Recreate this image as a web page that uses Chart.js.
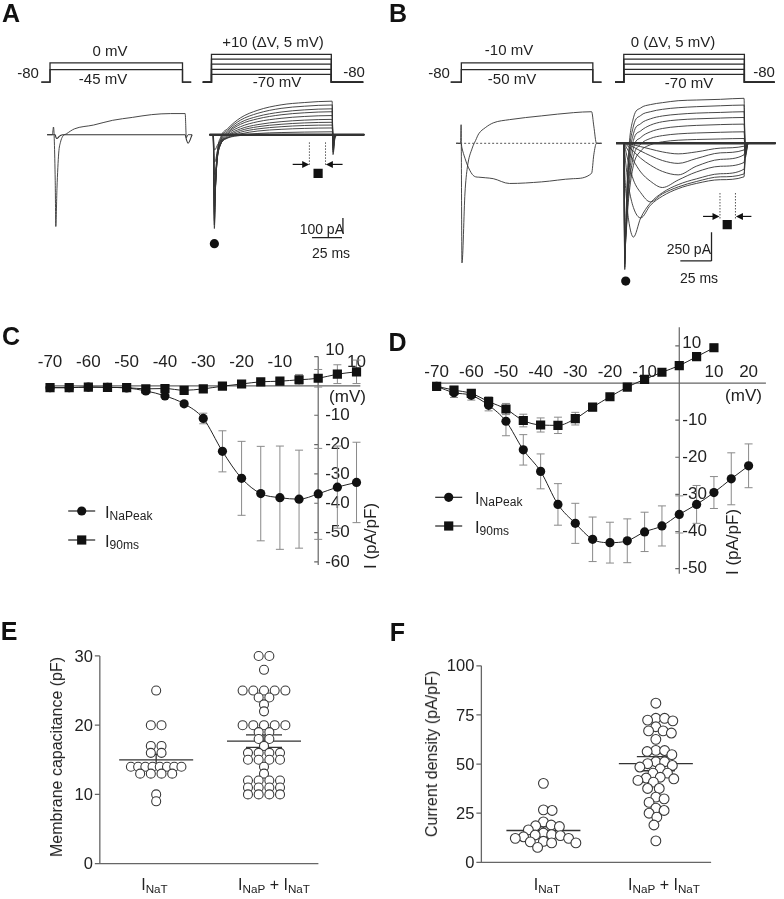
<!DOCTYPE html>
<html>
<head>
<meta charset="utf-8">
<title>Na currents</title>
<script src="https://cdn.jsdelivr.net/npm/chart.js@4.4.1/dist/chart.umd.min.js"></script>
<style>
  body { margin: 0; background: #fff; }
  #fig { position: relative; width: 784px; height: 899px; overflow: hidden; background: #fff;
         font-family: "Liberation Sans", Arial, Helvetica, sans-serif; color: #222; }
  #fig canvas { position: absolute; }
  .t { position: absolute; white-space: nowrap; line-height: 1; }
  .lt { font-size: 25px; font-weight: bold; color: #111; }
  .pr { font-size: 15px; }
  .sc { font-size: 14px; }
  .ax { font-size: 17px; }
  .lg { font-size: 16.5px; }
  .ct { font-size: 16px; }
  .yt { font-size: 16px; }
  sub { font-size: 0.73em; vertical-align: -0.22em; line-height: 0; }
</style>
</head>
<body>
<div id="fig">
  <canvas id="cA" width="392" height="300" style="left:0;top:0"></canvas>
  <canvas id="cB" width="392" height="300" style="left:392px;top:0"></canvas>
  <canvas id="cC" width="392" height="300" style="left:0;top:300px"></canvas>
  <canvas id="cD" width="392" height="300" style="left:392px;top:300px"></canvas>
  <canvas id="cE" width="392" height="289" style="left:0;top:610px"></canvas>
  <canvas id="cF" width="392" height="289" style="left:392px;top:610px"></canvas>
</div>
<script>
// ---------- A / B : voltage protocols (ms, schematic step heights) ----------
const protoA_tL = [-7.5, 0, 0, 114.2, 114.2, 121.7];
const protoA_tR = [-7.5, 0, 0, 103.3, 103.3, 130.8];
const protoB_tL = [-8.8, 0, 0, 108.8, 108.8, 116];
const protoB_tR = [-7.2, 0, 0, 99.8, 99.8, 124.8];
const stepsL = [2.0, 3.1];
const stepsR = [1.25, 2.05, 2.9, 3.7, 4.45];

// ---------- A : currents (ms, pA) ----------
const tAL = [-2.5, 2, 3, 4.5, 5, 6, 7.5, 9, 11, 14, 21, 37.5, 54, 71, 87.5, 104, 116.5, 117.5, 119, 122.5];
const aL_0mV = [0, 0, 50, -300, -600, -350, -120, -50, -10, 5, 38, 63, 94, 113, 131, 138, 138, -20, 0, 0];
const aL_m45 = [0, 0, 0, 0, -15, -25, -15, -5, 0, 0, 0, 0, 0, 0, 0, 0, 0, -30, -56, 0];
const tAR = [-1.7, 1.5, 2.5, 3.5, 5, 8, 14, 25, 40, 60, 80, 104, 104.8, 106.5, 110, 131.7];
const aR_sweeps = [
  [0, 0, -613, -330, -120, -15, 40, 110, 160, 195, 210, 219, -130, -20, 0, 0],
  [0, 0, -590, -340, -130, -25, 30, 95, 140, 172, 186, 194, -115, -15, 0, 0],
  [0, 0, -560, -345, -140, -35, 20, 80, 120, 148, 162, 169, -100, -12, 0, 0],
  [0, 0, -520, -340, -150, -45, 12, 68, 104, 130, 143, 150, -85, -10, 0, 0],
  [0, 0, -470, -330, -155, -55, 4, 52, 85, 107, 119, 125, -70, -8, 0, 0],
  [0, 0, -410, -310, -160, -60, -5, 38, 66, 85, 95, 100, -55, -6, 0, 0],
  [0, 0, -340, -280, -150, -62, -12, 27, 52, 68, 77, 81, -42, -5, 0, 0],
  [0, 0, -260, -230, -135, -60, -18, 16, 38, 52, 60, 63, -30, -4, 0, 0],
  [0, 0, -180, -170, -110, -55, -22, 5, 24, 35, 41, 44, -20, -2, 0, 0],
  [0, 0, -100, -95, -70, -40, -20, -5, 8, 14, 17, 19, -10, 0, 0, 0]
];

// ---------- B : currents (ms, pA) ----------
const tBL = [-4.3, -0.6, -0.2, 0.5, 3.0, 5.0, 9.0, 11.8, 14.4, 19.8, 26.4, 39.8, 66.4, 92.8, 107.8, 109.6, 111.8, 116];
const bL_m10 = [0, 0, 162, -1042, -433, -208, -42, 25, 83, 136, 178, 206, 239, 267, 275, 150, 0, 0];
const bL_m50 = [0, 0, 0, -40, -130, -190, -270, -292, -295, -300, -308, -350, -336, -308, -261, -100, 0, 0];
const tBR = [-6.4, 0, 0.8, 2, 4, 8, 14, 22, 32, 45, 60, 80, 99.5, 100.5, 103, 125.6];
const bR_sweeps = [
  [0, 0, -1100, -583, -83, 222, 308, 337, 354, 371, 377, 383, 392, -125, 0, 0],
  [0, 0, -1080, -625, -150, 150, 242, 275, 296, 310, 319, 327, 333, -108, 0, 0],
  [0, 0, -1050, -667, -208, 83, 171, 213, 238, 253, 263, 269, 275, -92, 0, 0],
  [0, 0, -1010, -708, -275, 25, 108, 158, 188, 204, 213, 220, 225, -75, 0, 0],
  [0, 0, -960, -733, -350, -42, 50, 100, 129, 146, 156, 163, 167, -63, 0, 0],
  [0, 0, -900, -750, -417, -117, -8, 42, 67, 82, 90, 96, 100, -50, 0, 0],
  [0, 0, -840, -767, -483, -192, -67, -13, 13, 27, 33, 38, 42, -38, 0, 0],
  [0, 0, -250, -458, -667, -817, -650, -520, -430, -360, -310, -265, -225, -100, 0, 0],
  [0, 0, -83, -208, -375, -560, -650, -540, -460, -395, -350, -317, -292, -125, 0, 0],
  [0, 0, -25, -83, -170, -320, -430, -510, -440, -380, -333, -292, -267, -117, 0, 0],
  [0, 0, -8, -33, -70, -150, -250, -330, -385, -320, -250, -200, -167, -83, 0, 0],
  [0, 0, 0, -13, -30, -70, -130, -190, -245, -275, -200, -140, -100, -50, 0, 0],
  [0, 0, 0, -4, -13, -33, -67, -108, -150, -175, -133, -83, -58, -29, 0, 0],
  [0, 0, 0, 0, -4, -13, -29, -50, -75, -92, -75, -42, -25, -13, 0, 0]
];

// ---------- C / D : I-V relations (mV, pA/pF, mean and SEM) ----------
const vC = [-70, -65, -60, -55, -50, -45, -40, -35, -30, -25, -20, -15, -10, -5, 0, 5, 10];
const peakC = [-0.6, -0.6, -0.4, -0.5, -0.7, -1.7, -3.4, -6.1, -11.1, -22.3, -31.5, -36.7, -38.1, -38.6, -36.8, -34.5, -32.9];
const peakC_sem = [0, 0, 0, 0, 0, 0, 0.5, 0.8, 1.8, 7, 12.6, 16.1, 17.6, 16.7, 15.5, 14, 13.7];
const i90C = [-0.6, -0.6, -0.4, -0.5, -0.6, -1.0, -0.9, -1.5, -1.0, -0.1, 0.65, 1.4, 1.6, 2.1, 2.6, 4.0, 4.8];
const i90C_sem = [0, 0, 0, 0, 0, 0, 0.4, 0.4, 0.3, 0.3, 0.3, 0.5, 1, 1.8, 3, 3.2, 4];
const xTicksC = [-70, -60, -50, -40, -30, -20, -10, 10];
const yTicksC = [10, -10, -20, -30, -40, -50, -60];

const vD = [-70, -65, -60, -55, -50, -45, -40, -35, -30, -25, -20, -15, -10, -5, 0, 5, 10, 15, 20];
const peakD = [-0.9, -2.6, -3.3, -6.0, -10.3, -18.0, -23.8, -32.7, -37.8, -42.1, -43.0, -42.5, -40.1, -38.5, -35.4, -32.7, -29.5, -25.8, -22.3];
const peakD_sem = [0, 1.3, 1.3, 1.5, 3.9, 4.1, 4.7, 5.6, 5.4, 6.0, 5.5, 5.9, 5.3, 5.4, 5.0, 5.1, 4.3, 7.0, 5.9];
const vD90 = [-70, -65, -60, -55, -50, -45, -40, -35, -30, -25, -20, -15, -10, -5, 0, 5, 10];
const i90D = [-0.9, -1.9, -2.8, -5.0, -7.0, -10.1, -11.3, -11.4, -9.6, -6.5, -3.7, -1.1, 1.0, 2.9, 4.7, 7.1, 9.5];
const i90D_sem = [0, 1, 0.8, 1.3, 1.5, 1.7, 1.9, 2.2, 1.7, 1.0, 0.5, 0.3, 0.3, 0.3, 0.3, 0.5, 1.0];
const xTicksD = [-70, -60, -50, -40, -30, -20, -10, 10, 20];
const yTicksD = [10, -10, -20, -30, -40, -50];
const legendNames = ['I<sub>NaPeak</sub>', 'I<sub>90ms</sub>'];

// ---------- E / F : single cells ----------
const catNames = ['I<sub>NaT</sub>', 'I<sub>NaP</sub> + I<sub>NaT</sub>'];
const capE_NaT = [25, 20, 20, 17, 17, 16, 16, 14, 14, 14, 14, 14, 14, 14, 14, 13, 13, 13, 13, 10, 9];
const capE_NaPT = [30, 30, 28, 25, 25, 25, 25, 25, 24, 24, 23, 22, 20, 20, 20, 20, 20, 19, 19, 18, 18, 17,
  16, 16, 16, 16, 15, 15, 15, 15, 14, 13, 12, 12, 12, 12, 11, 11, 11, 11, 10, 10, 10, 10];
const meanE = [15.0, 17.7];
const semE = [0.8, 0.9];
const yTicksE = [0, 10, 20, 30];
const denF_NaT = [40.2, 26.7, 26.4, 20.6, 19.0, 18.6, 18.2, 16.5, 14.9, 14.1, 13.9, 13.6, 13.0, 12.2, 12.2, 10.7, 10.4, 9.9, 9.9, 7.6];
const denF_NaPT = [81.0, 73.3, 73.3, 72.4, 72.0, 69.0, 66.9, 66.9, 65.8, 62.6, 57.0, 56.9, 56.4, 54.8, 51.2, 51.2, 50.2,
  49.3, 48.5, 47.6, 45.4, 45.4, 43.3, 42.9, 42.5, 41.7, 40.8, 37.6, 37.6, 33.2, 32.3, 30.5, 27.6, 26.4, 25.0, 23.0, 19.0, 10.9];
const meanF = [16.2, 50.2];
const semF = [1.8, 3.6];
const yTicksF = [0, 25, 50, 75, 100];

// =====================================================================
const FONT = '"Liberation Sans", Arial, sans-serif';
const fig = document.getElementById('fig');

function series(xs, ys) { return xs.map(function (x, i) { return { x: x, y: ys[i] }; }); }

function makeChart(id, datasets, ranges, hooks) {
  const scales = {};
  Object.keys(ranges).forEach(function (k) {
    scales[k] = { type: 'linear', axis: k.charAt(0), display: false, min: ranges[k][0], max: ranges[k][1] };
  });
  return new Chart(document.getElementById(id), {
    type: 'line',
    data: { datasets: datasets },
    options: {
      responsive: false, animation: false, devicePixelRatio: 1, events: [],
      layout: { padding: 0 },
      scales: scales,
      plugins: { legend: { display: false }, tooltip: { enabled: false } }
    },
    plugins: [{
      id: 'deco',
      beforeDatasetsDraw: function (c) { if (hooks.before) { c.ctx.save(); hooks.before(c, c.ctx); c.ctx.restore(); } },
      afterDatasetsDraw: function (c) { if (hooks.after) { c.ctx.save(); hooks.after(c, c.ctx); c.ctx.restore(); } }
    }]
  });
}

function proto(ts, h, xid) {
  return { data: series(ts, [0, 0, h, h, 0, 0]), xAxisID: xid, yAxisID: 'yP', borderColor: '#2a2a2a',
           borderWidth: 1.3, pointRadius: 0, tension: 0 };
}
function trace(ts, vals, xid, w) {
  return { data: series(ts, vals), xAxisID: xid, yAxisID: 'yI', borderColor: '#333', borderWidth: w || 0.9,
           pointRadius: 0, cubicInterpolationMode: 'monotone' };
}
function mark(x, y, style, r) {
  return { data: [{ x: x, y: y }], xAxisID: 'xR', yAxisID: 'yI', showLine: false, pointStyle: style, pointRadius: r,
           pointBackgroundColor: '#111', pointBorderColor: '#111', pointBorderWidth: 0 };
}
function seg(xs, ys, w, dash) {
  return { data: series(xs, ys), xAxisID: 'xR', yAxisID: 'yI', borderColor: dash ? '#555' : '#222', borderWidth: w,
           borderDash: dash || [], pointRadius: 0, tension: 0 };
}
function arrows(c, ctx, pairs, yv) {
  const sx = c.scales.xR, y = c.scales.yI.getPixelForValue(yv);
  ctx.strokeStyle = '#111'; ctx.fillStyle = '#111'; ctx.lineWidth = 1.2;
  pairs.forEach(function (p) {
    const x1 = sx.getPixelForValue(p[0]), x2 = sx.getPixelForValue(p[1]), d = Math.sign(x2 - x1);
    ctx.beginPath(); ctx.moveTo(x1, y); ctx.lineTo(x2 - d * 5, y); ctx.stroke();
    ctx.beginPath(); ctx.moveTo(x2, y); ctx.lineTo(x2 - d * 7, y - 3.5); ctx.lineTo(x2 - d * 7, y + 3.5);
    ctx.closePath(); ctx.fill();
  });
}

// annotation positions in data units (ms, pA) of each right-hand sweep
const noteA = { peak: [2.5, -712], win: [91.9, -253], winT: [84.4, 98.3], winI: [-50, -197],
  arrowI: -194, arrows: [[70, 84.2], [113, 98.6]], barT: 113.3, barI: [-544, -644], barT2: [86.7, 112.5], barI2: -672 };
const noteB = { peak: [1.6, -1200], win: [85.6, -708], winT: [79.6, 92.4], winI: [-433, -658],
  arrowI: -637, arrows: [[65.6, 79.2], [105.6, 92.8]], barT: 72.6, barI: [-775, -1025], barT2: [46.8, 72.6], barI2: -1025 };

function notes(n) {
  return [
    mark(n.peak[0], n.peak[1], 'circle', 4.6),
    mark(n.win[0], n.win[1], 'rect', 6.5),
    seg([n.winT[0], n.winT[0]], n.winI, 1, [1.5, 1.5]),
    seg([n.winT[1], n.winT[1]], n.winI, 1, [1.5, 1.5]),
    seg([n.barT, n.barT], n.barI, 1.3),
    seg(n.barT2, [n.barI2, n.barI2], 1.3)
  ];
}

// ---------- panel A ----------
const dsA = [];
stepsL.forEach(function (h) { dsA.push(proto(protoA_tL, h, 'xL')); });
stepsR.forEach(function (h) { dsA.push(proto(protoA_tR, h, 'xR')); });
dsA.push(trace(tAL, aL_m45, 'xL', 1.1));
dsA.push(trace(tAL, aL_0mV, 'xL'));
dsA.push(trace([tAR[0], tAR[tAR.length - 1]], [0, 0], 'xR', 2.6));
aR_sweeps.forEach(function (s) { dsA.push(trace(tAR, s, 'xR')); });
makeChart('cA', dsA.concat(notes(noteA)),
  { xL: [-37.5, 289.1667], xR: [-176.667, 150], yP: [-34, 12.1538], yI: [-1037.5, 837.5] },
  { after: function (c, ctx) { arrows(c, ctx, noteA.arrows, noteA.arrowI); } });

// ---------- panel B ----------
const dsB = [];
stepsL.forEach(function (h) { dsB.push(proto(protoB_tL, h, 'xL')); });
stepsR.forEach(function (h) { dsB.push(proto(protoB_tR, h, 'xR')); });
dsB.push(Object.assign(trace([tBL[0], tBL[tBL.length - 1]], [0, 0], 'xL', 1), { borderDash: [2, 2], borderColor: '#555' }));
dsB.push(trace(tBL, bL_m50, 'xL'));
dsB.push(trace(tBL, bL_m10, 'xL'));
dsB.push(trace([tBR[0], tBR[tBR.length - 1]], [0, 0], 'xR', 2.6));
bR_sweeps.forEach(function (s) { dsB.push(trace(tBR, s, 'xR')); });
makeChart('cB', dsB.concat(notes(noteB)),
  { xL: [-52, 261.6], xR: [-186.4, 127.2], yP: [-34, 12.1538], yI: [-1308.33, 1191.67] },
  { after: function (c, ctx) { arrows(c, ctx, noteB.arrows, noteB.arrowI); } });

// ---------- panels C, D ----------
function ivAxes(c, ctx, cfg) {
  const sx = c.scales.x, sy = c.scales.y, x0 = sx.getPixelForValue(0), y0 = sy.getPixelForValue(0);
  ctx.strokeStyle = '#666'; ctx.lineWidth = 1.2;
  ctx.beginPath();
  ctx.moveTo(sx.getPixelForValue(cfg.xSpan[0]), y0); ctx.lineTo(sx.getPixelForValue(cfg.xSpan[1]), y0);
  ctx.moveTo(x0, sy.getPixelForValue(cfg.ySpan[0])); ctx.lineTo(x0, sy.getPixelForValue(cfg.ySpan[1]));
  cfg.yTicks.forEach(function (v) { const y = sy.getPixelForValue(v); ctx.moveTo(x0 - 4, y); ctx.lineTo(x0, y); });
  ctx.stroke();
  ctx.fillStyle = '#222'; ctx.font = '17px ' + FONT; ctx.textBaseline = 'middle';
  ctx.textAlign = 'center';
  cfg.xTicks.forEach(function (v) { ctx.fillText(String(v), sx.getPixelForValue(v), y0 - cfg.xGap); });
  ctx.textAlign = 'left';
  cfg.yTicks.forEach(function (v, i) {
    ctx.fillText(String(v), x0 + cfg.yGap, sy.getPixelForValue(v) + (i === 0 ? cfg.topShift : 0));
  });
}
function errBars(c, ctx, xs, ys, es) {
  const sx = c.scales.x, sy = c.scales.y;
  ctx.strokeStyle = '#8a8a8a'; ctx.lineWidth = 1;
  ctx.beginPath();
  xs.forEach(function (v, i) {
    if (!es[i]) return;
    const x = sx.getPixelForValue(v), yt = sy.getPixelForValue(ys[i] + es[i]), yb = sy.getPixelForValue(ys[i] - es[i]);
    ctx.moveTo(x, yt); ctx.lineTo(x, yb);
    ctx.moveTo(x - 4, yt); ctx.lineTo(x + 4, yt);
    ctx.moveTo(x - 4, yb); ctx.lineTo(x + 4, yb);
  });
  ctx.stroke();
}
function legendMarks(ctx, items) {
  ctx.strokeStyle = '#222'; ctx.fillStyle = '#111'; ctx.lineWidth = 1.2;
  items.forEach(function (m) {
    ctx.beginPath(); ctx.moveTo(m[0] - 13.5, m[1]); ctx.lineTo(m[0] + 13.5, m[1]); ctx.stroke();
    ctx.beginPath();
    if (m[2] === 'circle') ctx.arc(m[0], m[1], 4.6, 0, Math.PI * 2); else ctx.rect(m[0] - 4.6, m[1] - 4.6, 9.2, 9.2);
    ctx.fill();
  });
}
function ivSet(xs, ys, style, r) {
  return { data: series(xs, ys), xAxisID: 'x', yAxisID: 'y', borderColor: '#222', borderWidth: 1,
           cubicInterpolationMode: 'monotone', pointStyle: style, pointRadius: r,
           pointBackgroundColor: '#111', pointBorderColor: '#111', pointBorderWidth: 0 };
}

makeChart('cC', [ivSet(vC, i90C, 'rect', 6.5), ivSet(vC, peakC, 'circle', 4.6)],
  { x: [-81.363, 17.565], y: [-70.753, 27.062] },
  {
    before: function (c, ctx) {
      ivAxes(c, ctx, { xSpan: [-70.5, 11], ySpan: [10, -61], xTicks: xTicksC, yTicks: yTicksC, xGap: 23.5, yGap: 7, topShift: -6 });
      errBars(c, ctx, vC, peakC, peakC_sem);
      errBars(c, ctx, vC, i90C, i90C_sem);
    },
    after: function (c, ctx) { legendMarks(ctx, [[81.7, 211, 'circle'], [81.7, 240, 'rect']]); }
  });

makeChart('cD', [ivSet(vD90, i90D, 'rect', 6.5), ivSet(vD, peakD, 'circle', 4.6)],
  { x: [-81.004, 28.34], y: [-56.701, 20.619] },
  {
    before: function (c, ctx) {
      ivAxes(c, ctx, { xSpan: [-71, 25], ySpan: [15, -51.4], xTicks: xTicksD, yTicks: yTicksD, xGap: 11, yGap: 3, topShift: -3 });
      errBars(c, ctx, vD, peakD, peakD_sem);
      errBars(c, ctx, vD90, i90D, i90D_sem);
    },
    after: function (c, ctx) { legendMarks(ctx, [[56.7, 197.3, 'circle'], [56.7, 226, 'rect']]); }
  });

// ---------- panels E, F ----------
function rowLayout(vals, g, pxX) {
  const rows = new Map();
  vals.forEach(function (v) { if (!rows.has(v)) rows.set(v, []); rows.get(v).push(v); });
  const pts = [];
  rows.forEach(function (row, v) {
    const n = row.length, sp = n > 1 ? Math.min(11, 52 / (n - 1)) : 0;
    row.forEach(function (_, i) { pts.push({ x: g + (i - (n - 1) / 2) * sp / pxX, y: v }); });
  });
  return pts;
}
function swarmLayout(vals, g, pxX, pxY, d) {
  const placed = [];
  return vals.map(function (v) {
    const py = v * pxY;
    let off = 0;
    for (let k = 0; k < 400; k++) {
      const o = (k === 0 ? 0 : (k % 2 ? (k + 1) / 2 : -k / 2)) * 0.5;
      if (placed.every(function (p) { return Math.hypot(p[0] - o, p[1] - py) >= d; })) { off = o; break; }
    }
    placed.push([off, py]);
    return { x: g + off / pxX, y: v };
  });
}
function dots(pts, r) {
  return { data: pts, xAxisID: 'x', yAxisID: 'y', showLine: false, pointStyle: 'circle', pointRadius: r,
           pointBackgroundColor: '#fff', pointBorderColor: '#3a3a3a', pointBorderWidth: 1.1 };
}
function dotAxes(c, ctx, cfg) {
  const sx = c.scales.x, sy = c.scales.y;
  const x0 = sx.getPixelForValue(cfg.axisX), y0 = sy.getPixelForValue(0);
  ctx.strokeStyle = '#666'; ctx.lineWidth = 1.3;
  ctx.beginPath();
  ctx.moveTo(x0, sy.getPixelForValue(cfg.yTicks[cfg.yTicks.length - 1])); ctx.lineTo(x0, y0);
  ctx.lineTo(sx.getPixelForValue(cfg.axisEnd), y0);
  cfg.yTicks.forEach(function (v) { const y = sy.getPixelForValue(v); ctx.moveTo(x0 - 5, y); ctx.lineTo(x0, y); });
  ctx.stroke();
  ctx.fillStyle = '#222'; ctx.font = '16.5px ' + FONT; ctx.textAlign = 'right'; ctx.textBaseline = 'middle';
  cfg.yTicks.forEach(function (v) { ctx.fillText(String(v), x0 - 7, sy.getPixelForValue(v) + 1); });
  ctx.strokeStyle = '#333'; ctx.lineWidth = 1.3;
  ctx.beginPath();
  cfg.means.forEach(function (m, i) {
    const x = sx.getPixelForValue(i + 1), ym = sy.getPixelForValue(m);
    const yt = sy.getPixelForValue(m + cfg.sems[i]), yb = sy.getPixelForValue(m - cfg.sems[i]), hs = cfg.semHalf[i];
    ctx.moveTo(x - 37, ym); ctx.lineTo(x + 37, ym);
    ctx.moveTo(x - hs, yt); ctx.lineTo(x + hs, yt);
    ctx.moveTo(x - hs, yb); ctx.lineTo(x + hs, yb);
    ctx.moveTo(x, yt); ctx.lineTo(x, yb);
  });
  ctx.stroke();
}

const rangeE = { x: [-0.3964, 3.1351], y: [-4.306, 35.833] };
const pxXE = 392 / (rangeE.x[1] - rangeE.x[0]);
makeChart('cE', [dots(rowLayout(capE_NaT, 1, pxXE), 4.5), dots(rowLayout(capE_NaPT, 2, pxXE), 4.5)], rangeE,
  { before: function (c, ctx) {
      dotAxes(c, ctx, { axisX: 0.4775, axisEnd: 2.5045, yTicks: yTicksE, means: meanE, sems: semE, semHalf: [10, 18] });
  } });

const rangeF = { x: [-0.2931, 3.0862], y: [-15.61, 125.37] };
const pxXF = 392 / (rangeF.x[1] - rangeF.x[0]), pxYF = 289 / (rangeF.y[1] - rangeF.y[0]);
makeChart('cF', [dots(swarmLayout(denF_NaT, 1, pxXF, pxYF, 8.6), 4.9), dots(swarmLayout(denF_NaPT, 2, pxXF, pxYF, 8.6), 4.9)], rangeF,
  { before: function (c, ctx) {
      dotAxes(c, ctx, { axisX: 0.4483, axisEnd: 2.4914, yTicks: yTicksF, means: meanF, sems: semF, semHalf: [16, 19] });
  } });

// ---------- text ----------
const texts = [
  ['A', 11, 12.5, 'lt'], ['B', 398, 12.5, 'lt'], ['C', 11, 335.5, 'lt'], ['D', 397.5, 342, 'lt'],
  ['E', 9, 631, 'lt'], ['F', 397.5, 631.5, 'lt'],
  ['-80', 28, 72, 'pr'], ['0 mV', 110, 50, 'pr'], ['-45 mV', 103, 77.5, 'pr'],
  ['+10 (&Delta;V, 5 mV)', 273, 41, 'pr'], ['-70 mV', 277, 81, 'pr'], ['-80', 354, 70.5, 'pr'],
  ['-80', 439, 72, 'pr'], ['-10 mV', 509, 49, 'pr'], ['-50 mV', 512, 77.5, 'pr'],
  ['0 (&Delta;V, 5 mV)', 673, 41, 'pr'], ['-70 mV', 689, 81.5, 'pr'], ['-80', 764, 70.5, 'pr'],
  ['100 pA', 344, 229, 'sc', 'right'], ['25 ms', 331, 253, 'sc'],
  ['250 pA', 711, 249, 'sc', 'right'], ['25 ms', 699, 278, 'sc'],
  ['(mV)', 347.5, 396, 'ax'], ['I (pA/pF)', 370, 536, 'ax', 'center', -90],
  ['(mV)', 743.5, 395, 'ax'], ['I (pA/pF)', 732, 542, 'ax', 'center', -90],
  [legendNames[0], 105, 512, 'lg', 'left'], [legendNames[1], 105, 541, 'lg', 'left'],
  [legendNames[0], 475, 498, 'lg', 'left'], [legendNames[1], 475, 527, 'lg', 'left'],
  ['Membrane capacitance (pF)', 57, 757, 'yt', 'center', -90],
  ['Current density (pA/pF)', 432, 753.5, 'yt', 'center', -90],
  [catNames[0], 154.5, 885, 'ct'], [catNames[1], 274, 885, 'ct'],
  [catNames[0], 547, 885, 'ct'], [catNames[1], 664, 885, 'ct']
];
texts.forEach(function (t) {
  const d = document.createElement('div');
  d.className = 't ' + t[3];
  d.innerHTML = t[0];
  d.style.left = t[1] + 'px';
  d.style.top = t[2] + 'px';
  const tx = t[4] === 'left' ? '0' : t[4] === 'right' ? '-100%' : '-50%';
  d.style.transform = 'translate(' + tx + ',-50%)' + (t[5] ? ' rotate(' + t[5] + 'deg)' : '');
  fig.appendChild(d);
});
</script>
</body>
</html>
